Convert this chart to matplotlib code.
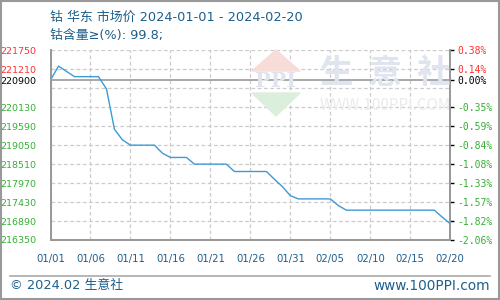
import matplotlib
matplotlib.use('Agg')
import matplotlib.pyplot as plt
from matplotlib.patches import Polygon, Rectangle

plt.rcParams['font.family'] = ['Noto Sans CJK SC', 'DejaVu Sans']

# daily price, 2024-01-01 .. 2024-02-20
prices = [220900, 221300, 221150, 221000, 221000, 221000, 221000, 220650,
          219500, 219200, 219050, 219050, 219050, 219050, 218820, 218700,
          218700, 218700, 218510, 218510, 218510, 218510, 218510, 218300,
          218300, 218300, 218300, 218300, 218080, 217870, 217610, 217520,
          217520, 217520, 217520, 217520, 217330, 217200, 217200, 217200,
          217200, 217200, 217200, 217200, 217200, 217200, 217200, 217200,
          217200, 217000, 216810]
days = list(range(len(prices)))
base = 220900

xtick_labels = ['01/01', '01/06', '01/11', '01/16', '01/21', '01/26',
                '01/31', '02/05', '02/10', '02/15', '02/20']
grid_vals = [221750, 221210, 220670, 220130, 219590, 219050, 218510,
             217970, 217430, 216890, 216350]
left_labels = [221750, 221210, 220900, 220130, 219590, 219050, 218510,
               217970, 217430, 216890, 216350]
right_labels = ['0.38%', '0.14%', '0.00%', '-0.35%', '-0.59%', '-0.84%',
                '-1.08%', '-1.33%', '-1.57%', '-1.82%', '-2.06%']

red = '#ff3030'
green = '#33b033'
blue_txt = '#1d5f8c'
mixed = ['DejaVu Sans', 'Noto Sans CJK SC']

fig = plt.figure(figsize=(5, 3), dpi=100)
ax = fig.add_axes([0.101, 0.2, 0.7996, 0.6323])

# watermark
fig.patches.append(Polygon([[252 / 500, 1 - 71 / 300], [300 / 500, 1 - 71 / 300],
                            [276 / 500, 1 - 50 / 300]], closed=True,
                           transform=fig.transFigure, color='#f7dcd8', zorder=0))
fig.patches.append(Polygon([[252 / 500, 1 - 93 / 300], [300 / 500, 1 - 93 / 300],
                            [276 / 500, 1 - 116 / 300]], closed=True,
                           transform=fig.transFigure, color='#dcefdc', zorder=0))
fig.text(276 / 500, 1 - 81 / 300, 'PPI', color='#dfe4ee', fontsize=15,
         ha='center', va='center', fontweight='bold', family='DejaVu Serif')
fig.text(385 / 500, 1 - 73 / 300, '生  意  社', color='#dfe4ee', fontsize=24,
         ha='center', va='center', fontweight='bold')
fig.text(385 / 500, 1 - 105 / 300, 'WWW.100PPI.COM', color='#ebebeb',
         fontsize=11, ha='center', va='center')
ax.patch.set_alpha(0)

ax.plot(days, prices, color='#3d9ad6', lw=1.0, zorder=3)
ax.axhline(base, color='#999999', lw=1.2, zorder=2)

ax.set_xlim(0, 50)
ax.set_ylim(216350, 221750)

for v in grid_vals:
    ax.axhline(v, color='#cccccc', lw=0.9, ls=(0, (3, 2)), zorder=1)
for d in range(0, 51, 5):
    ax.axvline(d, color='#cccccc', lw=0.9, ls=(0, (3, 2)), zorder=1)

ax.set_xticks(range(0, 51, 5))
ax.set_xticklabels(xtick_labels, color=blue_txt, fontsize=7.3,
                   family='DejaVu Sans')
ax.tick_params(axis='x', length=0, pad=10)

ax.set_yticks(left_labels)
ax.set_yticklabels([str(v) for v in left_labels], fontsize=6.8,
                   family='DejaVu Sans')
ax.tick_params(axis='y', length=0, pad=10)
for lab, v in zip(ax.get_yticklabels(), left_labels):
    lab.set_color(red if v > base else ('black' if v == base else green))

ax2 = ax.twinx()
ax2.set_ylim(216350, 221750)
ax2.set_yticks(left_labels)
ax2.set_yticklabels(right_labels, fontsize=7, family='DejaVu Sans Mono')
ax2.tick_params(axis='y', length=3, pad=2, width=1)
for lab, tk, v in zip(ax2.get_yticklabels(), ax2.yaxis.get_major_ticks(), left_labels):
    c = red if v > base else ('black' if v == base else green)
    lab.set_color(c)
    tk.tick2line.set_color(c)

for a in (ax, ax2):
    a.spines['top'].set_visible(False)
    for s in ('left', 'bottom', 'right'):
        a.spines[s].set_color('#999999')
        a.spines[s].set_linewidth(1.3)

fig.text(50 / 500, 1 - 17 / 300, '钴 华东 市场价 2024-01-01 - 2024-02-20',
         color=blue_txt, fontsize=9.3, va='center', ha='left', family=mixed)
fig.text(50 / 500, 1 - 35 / 300, '钴含量≥(%): 99.8;',
         color=blue_txt, fontsize=9.3, va='center', ha='left', family=mixed)

fig.add_artist(plt.Line2D([10 / 500, 490 / 500], [1 - 275.5 / 300, 1 - 275.5 / 300],
                          color='#aaaaaa', lw=1.2))
fig.text(10 / 500, 1 - 286 / 300, '© 2024.02 生意社', color=blue_txt,
         fontsize=9.3, va='center', ha='left', family=mixed)
fig.text(490 / 500, 1 - 286 / 300, 'www.100PPI.com', color=blue_txt,
         fontsize=9.8, va='center', ha='right', family=mixed)

fig.patches.append(Rectangle((0.001, 0.002), 0.997, 0.996, transform=fig.transFigure,
                             fill=False, edgecolor='#999999', lw=1.5))

fig.savefig('out.png', dpi=100)
